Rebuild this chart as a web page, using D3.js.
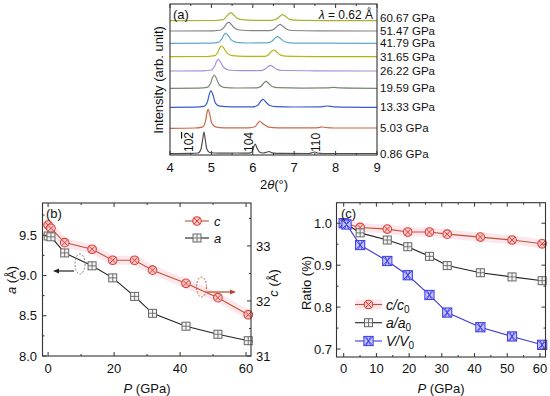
<!DOCTYPE html>
<html><head><meta charset="utf-8">
<script src="https://cdn.jsdelivr.net/npm/d3@7"></script>
<style>
html,body{margin:0;padding:0;background:#fff;}
svg{display:block;font-family:"Liberation Sans",Arial,sans-serif;}
</style></head>
<body>
<svg id="c" width="550" height="396"></svg>
<script>
// ---------- Panel (a) data ----------
const pressureLabels = ["0.86 GPa","5.03 GPa","13.33 GPa","19.59 GPa","26.22 GPa","31.65 GPa","41.79 GPa","51.47 GPa","60.67 GPa"];
const traceOffsets = [1, 26.7, 47.7, 66.7, 84, 98.3, 111.7, 124, 134.3];
const traceColors = ["#4d4d4d","#c8694a","#3a5ad2","#6f8c70","#a58fd8","#b9b413","#62a8cc","#848484","#aeae32"];
const trace086 = [[4.0,0.4],[4.5,0.6],[4.68,1],[4.75,5],[4.79,15],[4.82,22],[4.85,15],[4.89,5],[4.96,1.5],[5.2,0.8],[5.6,1],[5.9,0.8],[5.98,2],[6.03,8],[6.06,10],[6.1,6],[6.16,2],[6.25,1],[6.35,2],[6.4,2.5],[6.46,1.2],[6.7,0.6],[7.35,0.5],[7.45,1.5],[7.5,2],[7.56,1],[7.7,0.5],[9.0,0.5]];
const trace503 = [[4.0,0],[4.6,0.3],[4.78,1.2],[4.85,6],[4.89,15],[4.92,19],[4.96,14],[5.01,5],[5.1,1.5],[5.3,0.5],[5.9,0.5],[6.05,1.5],[6.12,5],[6.17,7.3],[6.23,5],[6.3,3],[6.38,1.2],[6.6,0.4],[7.5,0.4],[7.62,1],[7.68,1.3],[7.75,0.8],[8.0,0.3],[9,0.3]];
const trace1333 = [[4,0],[4.6,0.2],[4.82,1],[4.9,5],[4.95,13],[4.99,16.7],[5.04,12],[5.1,4],[5.2,1.2],[5.5,0.4],[6,0.4],[6.12,2],[6.2,6.5],[6.25,8],[6.31,5.5],[6.4,2],[6.55,0.6],[7.0,0.3],[7.65,0.5],[7.8,1.3],[7.95,0.5],[9,0]];
const trace1959 = [[4,0],[4.7,0.2],[4.9,1],[4.98,5],[5.03,11],[5.07,13.3],[5.12,10],[5.19,3.5],[5.3,1],[5.6,0.3],[6.1,0.4],[6.2,2],[6.27,5.5],[6.32,7],[6.38,5],[6.47,1.8],[6.6,0.6],[7.2,0.2],[7.8,0.4],[7.95,1],[8.1,0.4],[9,0]];
const trace2622 = [[4,0],[4.8,0.2],[5.0,1],[5.08,5],[5.13,10],[5.17,11.7],[5.22,9],[5.3,3.5],[5.42,1],[5.7,0.3],[6.2,0.4],[6.3,2],[6.38,4.8],[6.43,5.7],[6.49,4.3],[6.58,1.6],[6.72,0.5],[7.5,0.2],[9,0]];
const trace3165 = [[4,0],[4.9,0.2],[5.08,1],[5.16,5],[5.21,9.5],[5.25,10.7],[5.3,8.5],[5.38,3.5],[5.5,1],[5.8,0.3],[6.3,0.4],[6.38,2],[6.46,5.6],[6.51,6.7],[6.57,5],[6.66,1.8],[6.8,0.5],[7.5,0.1],[9,0]];
const trace4179 = [[4,0],[5,0.2],[5.17,1],[5.26,5],[5.31,9],[5.35,10],[5.4,8],[5.48,3.5],[5.6,1],[5.9,0.3],[6.35,0.4],[6.46,2],[6.55,5.6],[6.6,6.7],[6.66,5],[6.76,1.8],[6.9,0.5],[7.6,0.1],[9,0]];
const trace5147 = [[4,0],[5.05,0.2],[5.23,1],[5.32,4.5],[5.38,8],[5.42,8.7],[5.47,7],[5.56,3],[5.68,1],[6,0.3],[6.4,0.4],[6.52,2],[6.61,5.6],[6.66,6.7],[6.72,5],[6.82,1.8],[6.96,0.5],[7.6,0.1],[9,0]];
const trace6067 = [[4,0],[5.1,0.2],[5.28,1],[5.37,4.5],[5.43,7.3],[5.47,8],[5.52,6.5],[5.61,2.8],[5.73,1],[6.05,0.3],[6.45,0.4],[6.58,1.8],[6.67,5],[6.72,6],[6.78,4.6],[6.88,1.6],[7.02,0.5],[7.7,0.1],[9,0]];
const traces = [trace086, trace503, trace1333, trace1959, trace2622, trace3165, trace4179, trace5147, trace6067];
const peakLabels = [{pos:4.555, main:"10", bar:"2"}, {pos:6.0, main:"104", bar:""}, {pos:7.62, main:"110", bar:""}];
const thetaTicks = [4,5,6,7,8,9];

// ---------- Panels (b),(c) data ----------
const P = [0, 0.86, 5.03, 13.33, 19.59, 26.22, 31.65, 41.79, 51.47, 60.67];
const aVals = [9.49, 9.48, 9.28, 9.12, 8.97, 8.74, 8.53, 8.37, 8.27, 8.19];
const cVals = [33.38, 33.32, 33.06, 32.94, 32.74, 32.74, 32.56, 32.32, 32.06, 31.75];
const cRatio = [1.0, 0.998, 0.990, 0.986, 0.979, 0.979, 0.974, 0.967, 0.960, 0.951];
const aRatio = [1.0, 0.998, 0.977, 0.960, 0.944, 0.921, 0.899, 0.882, 0.872, 0.863];
const vRatio = [1.0, 0.997, 0.948, 0.910, 0.876, 0.829, 0.787, 0.752, 0.730, 0.710];
const aTicks = [8.0, 8.5, 9.0, 9.5];
const cTicks = [31, 32, 33];
const pTicksB = [0, 20, 40, 60];
const pTicksC = [0, 10, 20, 30, 40, 50, 60];
const ratioTicks = [0.7, 0.8, 0.9, 1.0];

const svg = d3.select("#c");
const AX = "#333";

function box(g, x0, x1, y0, y1){
  g.append("rect").attr("x",x0).attr("y",y0).attr("width",x1-x0).attr("height",y1-y0)
   .attr("fill","none").attr("stroke",AX).attr("stroke-width",1.1);
}
function ticksX(g, sc, vals, y0, y1, len){
  vals.forEach(v=>{
    const x = sc(v);
    g.append("line").attr("x1",x).attr("x2",x).attr("y1",y1).attr("y2",y1-len).attr("stroke",AX);
    g.append("line").attr("x1",x).attr("x2",x).attr("y1",y0).attr("y2",y0+len).attr("stroke",AX);
  });
}
function ticksY(g, sc, vals, x, dir, len){
  vals.forEach(v=>{
    const y = sc(v);
    g.append("line").attr("x1",x).attr("x2",x+dir*len).attr("y1",y).attr("y2",y).attr("stroke",AX);
  });
}

// ================= Panel (a) =================
{
  const g = svg.append("g");
  const x = d3.scaleLinear().domain([4,9]).range([170,377]);
  const y = d3.scaleLinear().domain([0,151]).range([155,4]);
  const line = d3.line().x(d=>x(d[0])).y(d=>d[1]).curve(d3.curveMonotoneX);
  traces.forEach((t,i)=>{
    const pts = t.map(d=>[d[0], y(d[1]+traceOffsets[i])]);
    g.append("path").attr("d",line(pts)).attr("fill","none").attr("stroke",traceColors[i]).attr("stroke-width",1.2);
  });
  box(g,170,377,4,155);
  ticksX(g, x, thetaTicks, 4, 155, 4);
  ticksX(g, x, d3.range(4.5,9,1), 4, 155, 2);
  thetaTicks.forEach(v=>{
    g.append("text").attr("x",x(v)).attr("y",172).attr("text-anchor","middle")
     .attr("font-size",13).attr("fill","#111").text(v);
  });
  const xl = g.append("text").attr("x",274).attr("y",189).attr("text-anchor","middle").attr("font-size",13).attr("fill","#111");
  xl.append("tspan").text("2");
  xl.append("tspan").attr("font-style","italic").text("θ");
  xl.append("tspan").text("(°)");
  g.append("text").attr("transform","translate(163,80) rotate(-90)").attr("text-anchor","middle")
   .attr("font-size",13).attr("fill","#111").text("Intensity (arb. unit)");
  g.append("text").attr("x",173).attr("y",19).attr("font-size",13).attr("fill","#111").text("(a)");
  const lam = g.append("text").attr("x",373).attr("y",19).attr("text-anchor","end").attr("font-size",12).attr("fill","#111");
  lam.append("tspan").attr("font-style","italic").text("λ");
  lam.append("tspan").text(" = 0.62 Å");
  pressureLabels.forEach((s,i)=>{
    const yy = y(traceOffsets[i]) + (i===pressureLabels.length-1 ? -2.5 : (i===pressureLabels.length-2 ? -0.5 : 0));
    g.append("text").attr("x",380).attr("y",yy).attr("dy","0.36em").attr("font-size",11.5).attr("fill","#111").text(s);
  });
  peakLabels.forEach(p=>{
    const t = g.append("text").attr("transform",`translate(${x(p.pos)},152) rotate(-90)`)
      .attr("font-size",12).attr("fill","#111");
    t.append("tspan").text(p.main);
    if(p.bar) t.append("tspan").style("text-decoration","overline").text(p.bar);
  });
}

// ---------- marker helpers ----------
function markerC(g, cx, cy){
  g.append("circle").attr("cx",cx).attr("cy",cy).attr("r",4.3).attr("fill","#f6c9c9").attr("stroke","#e0403a").attr("stroke-width",1.1);
  const d=3;
  g.append("path").attr("d",`M${cx-d},${cy-d}L${cx+d},${cy+d}M${cx-d},${cy+d}L${cx+d},${cy-d}`).attr("stroke","#e0403a").attr("stroke-width",1);
}
function markerA(g, cx, cy){
  const s=4;
  g.append("rect").attr("x",cx-s).attr("y",cy-s).attr("width",2*s).attr("height",2*s).attr("fill","#f4f4f4").attr("stroke","#666").attr("stroke-width",1);
  g.append("path").attr("d",`M${cx-s},${cy}L${cx+s},${cy}M${cx},${cy-s}L${cx},${cy+s}`).attr("stroke","#666").attr("stroke-width",0.9);
}
function markerV(g, cx, cy){
  const s=4.6;
  g.append("rect").attr("x",cx-s).attr("y",cy-s).attr("width",2*s).attr("height",2*s).attr("fill","#c4c4ff").attr("stroke","#3a3ae6").attr("stroke-width",1);
  g.append("path").attr("d",`M${cx-s},${cy-s}L${cx+s},${cy+s}M${cx-s},${cy+s}L${cx+s},${cy-s}M${cx-s/2},${cy-s}L${cx+s/2},${cy+s}M${cx-s/2},${cy+s}L${cx+s/2},${cy-s}`).attr("stroke","#3a3ae6").attr("stroke-width",0.9);
}
function series(g, xs, ys, xsc, ysc, color, marker, glow){
  const pts = xs.map((p,i)=>[xsc(p), ysc(ys[i])]);
  if(glow){
    g.append("path").attr("d",d3.line()(pts)).attr("fill","none").attr("stroke","#fde6ee").attr("stroke-width",9).attr("stroke-linecap","square");
  }
  g.append("path").attr("d",d3.line()(pts)).attr("fill","none").attr("stroke",color).attr("stroke-width",1.1);
  pts.forEach(p=>marker(g,p[0],p[1]));
}

// ================= Panel (b) =================
{
  const g = svg.append("g");
  const X0=42.5, X1=251, Y0=203, Y1=356;
  const x = d3.scaleLinear().domain([-1.7,61.5]).range([X0,X1]);
  const ya = d3.scaleLinear().domain([8.0,9.9]).range([Y1,Y0]);
  const yc = d3.scaleLinear().domain([31,33.78]).range([Y1,Y0]);
  series(g, P, cVals, x, yc, "#c0552f", markerC, true);
  series(g, P, aVals, x, ya, "#222", markerA, false);
  box(g,X0,X1,Y0,Y1);
  ticksX(g, x, pTicksB, Y0, Y1, 4);
  ticksX(g, x, [10,30,50], Y0, Y1, 2);
  ticksY(g, ya, aTicks, X0, 1, 4);
  ticksY(g, ya, [8.25,8.75,9.25,9.75], X0, 1, 2);
  ticksY(g, yc, cTicks, X1, -1, 4);
  ticksY(g, yc, [31.5,32.5,33.5], X1, -1, 2);
  pTicksB.forEach(v=>g.append("text").attr("x",x(v)).attr("y",373).attr("text-anchor","middle").attr("font-size",13).attr("fill","#111").text(v));
  aTicks.forEach(v=>g.append("text").attr("x",37).attr("y",ya(v)).attr("dy","0.36em").attr("text-anchor","end").attr("font-size",13).attr("fill","#111").text(v.toFixed(1)));
  cTicks.forEach(v=>g.append("text").attr("x",256).attr("y",yc(v)).attr("dy","0.36em").attr("font-size",13).attr("fill","#111").text(v));
  const xl = g.append("text").attr("x",147).attr("y",393).attr("text-anchor","middle").attr("font-size",13).attr("fill","#111");
  xl.append("tspan").attr("font-style","italic").text("P");
  xl.append("tspan").text(" (GPa)");
  const al = g.append("text").attr("transform","translate(16,280) rotate(-90)").attr("text-anchor","middle").attr("font-size",13).attr("fill","#111");
  al.append("tspan").attr("font-style","italic").text("a");
  al.append("tspan").text(" (Å)");
  const cl = g.append("text").attr("transform","translate(278,283) rotate(-90)").attr("text-anchor","middle").attr("font-size",13).attr("fill","#111");
  cl.append("tspan").attr("font-style","italic").text("c");
  cl.append("tspan").text(" (Å)");
  g.append("text").attr("x",46).attr("y",218).attr("font-size",13).attr("fill","#111").text("(b)");
  // legend
  const leg = [["c","#c0552f",markerC,221],["a","#222",markerA,238]];
  leg.forEach(l=>{
    g.append("line").attr("x1",185).attr("x2",209).attr("y1",l[3]).attr("y2",l[3]).attr("stroke",l[1]).attr("stroke-width",1.1);
    l[2](g,197,l[3]);
    g.append("text").attr("x",214).attr("y",l[3]).attr("dy","0.36em").attr("font-size",13).attr("font-style","italic").attr("fill","#111").text(l[0]);
  });
  // annotations
  g.append("ellipse").attr("cx",80).attr("cy",264).attr("rx",5).attr("ry",10).attr("fill","none").attr("stroke","#777").attr("stroke-dasharray","2,1.5").attr("stroke-width",0.9);
  g.append("line").attr("x1",74).attr("x2",58).attr("y1",271).attr("y2",271).attr("stroke","#222").attr("stroke-width",1.2);
  g.append("path").attr("d","M53,271L59,268.5L59,273.5Z").attr("fill","#222");
  g.append("ellipse").attr("cx",201.5).attr("cy",287).attr("rx",5).attr("ry",10).attr("fill","none").attr("stroke","#c0552f").attr("stroke-dasharray","2,1.5").attr("stroke-width",0.9);
  g.append("line").attr("x1",207).attr("x2",231).attr("y1",292).attr("y2",292).attr("stroke","#b04a2a").attr("stroke-width",1.2);
  g.append("path").attr("d","M236,292L230,289.5L230,294.5Z").attr("fill","#b04a2a");
}

// ================= Panel (c) =================
{
  const g = svg.append("g");
  const X0=336.5, X1=545.5, Y0=202.7, Y1=357;
  const x = d3.scaleLinear().domain([-2.2,61.7]).range([X0,X1]);
  const y = d3.scaleLinear().domain([0.681,1.049]).range([Y1,Y0]);
  series(g, P, cRatio, x, y, "#c0552f", markerC, true);
  series(g, P, aRatio, x, y, "#222", markerA, false);
  series(g, P, vRatio, x, y, "#3a3ad8", markerV, false);
  box(g,X0,X1,Y0,Y1);
  ticksX(g, x, pTicksC, Y0, Y1, 4);
  ticksX(g, x, [5,15,25,35,45,55], Y0, Y1, 2);
  ticksY(g, y, ratioTicks, X0, 1, 4);
  ticksY(g, y, ratioTicks, X1, -1, 4);
  ticksY(g, y, [0.75,0.85,0.95], X0, 1, 2);
  ticksY(g, y, [0.75,0.85,0.95], X1, -1, 2);
  pTicksC.forEach(v=>g.append("text").attr("x",x(v)).attr("y",373).attr("text-anchor","middle").attr("font-size",13).attr("fill","#111").text(v));
  ratioTicks.forEach(v=>g.append("text").attr("x",332).attr("y",y(v)).attr("dy","0.36em").attr("text-anchor","end").attr("font-size",13).attr("fill","#111").text(v.toFixed(1)));
  const xl = g.append("text").attr("x",441).attr("y",393).attr("text-anchor","middle").attr("font-size",13).attr("fill","#111");
  xl.append("tspan").attr("font-style","italic").text("P");
  xl.append("tspan").text(" (GPa)");
  g.append("text").attr("transform","translate(311,283) rotate(-90)").attr("text-anchor","middle").attr("font-size",13).attr("fill","#111").text("Ratio (%)");
  g.append("text").attr("x",341).attr("y",218).attr("font-size",13).attr("fill","#111").text("(c)");
  const leg = [["c","c","#c0552f",markerC,304.5,true],["a","a","#222",markerA,322.7,false],["V","V","#3a3ad8",markerV,341,false]];
  leg.forEach(l=>{
    if(l[5]) g.append("line").attr("x1",355).attr("x2",382).attr("y1",l[4]).attr("y2",l[4]).attr("stroke","#fde6ee").attr("stroke-width",10);
    g.append("line").attr("x1",355).attr("x2",382).attr("y1",l[4]).attr("y2",l[4]).attr("stroke",l[2]).attr("stroke-width",1.1);
    l[3](g,368.5,l[4]);
    const t = g.append("text").attr("x",386).attr("y",l[4]).attr("dy","0.36em").attr("font-size",14).attr("fill","#111");
    t.append("tspan").attr("font-style","italic").text(l[0]+"/"+l[1]);
    t.append("tspan").attr("font-size",10).attr("dy","0.3em").text("0");
  });
}
</script>
</body></html>
